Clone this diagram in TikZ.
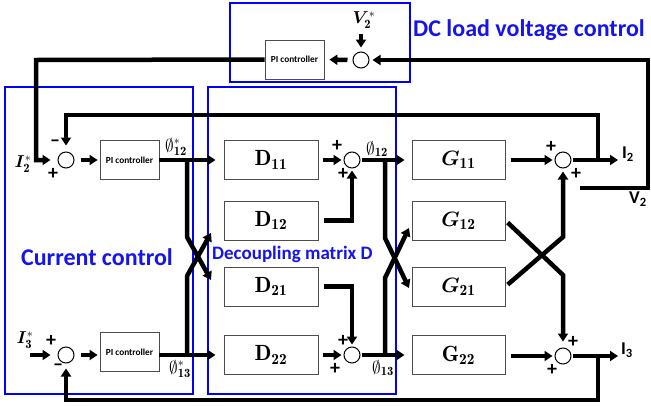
\documentclass[tikz,border=0pt]{standalone}
\usepackage{fontspec}
\usepackage{amsmath,bm}
\newfontfamily\calib{Carlito}
\usetikzlibrary{arrows.meta}
\definecolor{lblue}{RGB}{20,20,235}
\begin{document}
\begin{tikzpicture}[x=1pt,y=-1pt,
  thk/.style={line width=4.5pt},
  arr/.style={thk,-{Triangle[length=8pt,width=10pt]}},
  block/.style={draw=black!70,line width=1pt,minimum width=94pt,minimum height=39pt,inner sep=0pt,font=\fontsize{22}{24}\selectfont},
  pib/.style={draw=black!70,line width=0.8pt,minimum width=59pt,minimum height=39pt,inner sep=0pt,font=\calib\bfseries\fontsize{9.3}{10}\selectfont},
  sumc/.style={circle,draw,line width=1pt,minimum size=16pt,inner sep=0pt},
  bluebox/.style={draw=blue,line width=2pt},
  sgn/.style={inner sep=0pt,font=\calib\bfseries\fontsize{20}{20}\selectfont},
  mlab/.style={inner sep=0pt,font=\fontsize{18}{19}\selectfont},
  olab/.style={inner sep=0pt,font=\calib\bfseries\fontsize{18}{19}\selectfont},
  blab/.style={inner sep=0pt,text=lblue,font=\calib\bfseries\fontsize{24}{26}\selectfont}
]
\useasboundingbox (0,0) rectangle (651,405);
\fill[white] (0,0) rectangle (651,405);

% blue group boxes
\draw[bluebox] (230,3) rectangle (410,82);
\draw[bluebox] (5,87) rectangle (193,394);
\draw[bluebox] (208,87) rectangle (396,394);

% blocks
\node[pib] (pitop) at (294.5,59.5) {PI controller};
\node[pib] (pi1) at (129.5,160) {PI controller};
\node[pib] (pi2) at (129.5,352) {PI controller};
\node[block] (d11) at (271,160) {$\mathbf{D_{11}}$};
\node[block] (d12) at (271,220.5) {$\mathbf{D_{12}}$};
\node[block] (d21) at (271,286.5) {$\mathbf{D_{21}}$};
\node[block] (d22) at (271,355) {$\mathbf{D_{22}}$};
\node[block,minimum width=93pt] (g11) at (458.5,160) {$\bm{G}_{\mathbf{11}}$};
\node[block,minimum width=93pt] (g12) at (458.5,220.5) {$\bm{G}_{\mathbf{12}}$};
\node[block,minimum width=93pt] (g21) at (458.5,286.5) {$\bm{G}_{\mathbf{21}}$};
\node[block,minimum width=93pt] (g22) at (458.5,355) {$\mathbf{G_{22}}$};

% summing junctions
\node[sumc] (stop) at (361,60) {};
\node[sumc] (s1) at (66,160) {};
\node[sumc] (s4) at (66,355) {};
\node[sumc] (s2) at (352,160) {};
\node[sumc] (s3) at (352,355) {};
\node[sumc] (s5) at (563,160) {};
\node[sumc] (s6) at (563,356) {};

% coordinates
\coordinate (vtop) at (361,34);
\coordinate (v2a) at (580,188);
\coordinate (v2r) at (648,188);
\coordinate (lt) at (36,60);
\coordinate (j5) at (598,160);
\coordinate (fb1) at (598,115);
\coordinate (j6) at (598,356);
\coordinate (fb2) at (598,400);
\coordinate (i3in) at (30,355);
\coordinate (j1) at (187,160);
\coordinate (x1a) at (187,237);
\coordinate (x1b) at (211,280);
\coordinate (j2) at (187,355);
\coordinate (x2a) at (187,276);
\coordinate (x2b) at (211,233);
\coordinate (j3) at (385,160);
\coordinate (x3a) at (385,238);
\coordinate (x3b) at (409,288);
\coordinate (j4) at (385,355);
\coordinate (x4a) at (385,278);
\coordinate (x4b) at (409,228);
\coordinate (y1b) at (563,275);
\coordinate (y2b) at (563,237);
\coordinate (o2) at (618,160);
\coordinate (o3) at (618,356);

% DC voltage loop
\draw[arr,shorten >=4pt] (vtop) -- (stop.north);
\draw[arr,shorten <=5pt,shorten >=5pt] (stop.west) -- (pitop.east);
\draw[arr,shorten >=3pt] (v2a) -- (v2r) |- (stop.east);
\draw[arr,shorten >=7pt] (pitop.west) -- (lt) |- (s1.west);

% current control
\draw[arr,shorten >=6pt] (j5) -- (fb1) -| (s1.north);
\draw[arr,shorten <=6pt,shorten >=2pt] (s1.east) -- (pi1.west);
\draw[arr,shorten >=8pt] (pi1.east) -- (d11.west);
\draw[arr,shorten >=7pt] (i3in) -- (s4.west);
\draw[arr,shorten <=6pt,shorten >=2pt] (s4.east) -- (s4.east -| pi2.west);
\draw[arr,shorten >=8pt] (pi2.east |- d22.west) -- (d22.west);
\draw[arr,shorten >=5pt] (j6) -- (fb2) -| (s4.south);
\draw[arr,line join=miter] (j1) -- (x1a) -- (x1b);
\draw[arr,line join=miter] (j2) -- (x2a) -- (x2b);

% decoupling matrix
\draw[arr,shorten <=4pt,shorten >=2pt] (d11.east) -- (s2.west);
\draw[arr,shorten <=5pt,shorten >=2pt] (d12.east) -| (s2.south);
\draw[arr,shorten <=5pt,shorten >=2pt] (d21.east) -| (s3.north);
\draw[arr,shorten <=4pt,shorten >=2pt] (d22.east) -- (s3.west);
\draw[arr,shorten <=1pt,shorten >=7pt] (s2.east) -- (g11.west);
\draw[arr,shorten <=1pt,shorten >=7pt] (s3.east) -- (s3.east -| g22.west);
\draw[arr,line join=miter] (j3) -- (x3a) -- (x3b);
\draw[arr,line join=miter] (j4) -- (x4a) -- (x4b);

% plant
\draw[arr,shorten <=5pt,shorten >=2pt] (g11.east) -- (s5.west);
\draw[arr,shorten <=5pt,shorten >=2pt] (g22.east |- s6.west) -- (s6.west);
\draw[arr,shorten <=3pt,shorten >=6pt] (g12.east) -- (y1b) -- (s6.north);
\draw[arr,shorten <=3pt,shorten >=3pt] (g21.east) -- (y2b) -- (s5.south);
\draw[arr,shorten <=1pt] (s5.east) -- (o2);
\draw[arr,shorten <=1pt] (s6.east) -- (o3);

% signs
\node[sgn] (m1) at (55,143) {–};
\node[sgn] (p1) at (53,174) {+};
\node[sgn] (p4) at (51,341) {+};
\node[sgn] (m4) at (58,367) {–};
\node[sgn] (p2a) at (337,146) {+};
\node[sgn] (p2b) at (343,174) {+};
\node[sgn] (p3a) at (343,341) {+};
\node[sgn] (p3b) at (335,369) {+};
\node[sgn] (p5a) at (551,147) {+};
\node[sgn] (p5b) at (576,174) {+};
\node[sgn] (p6a) at (573,342) {+};
\node[sgn] (p6b) at (552,370) {+};

% signal labels
\node[mlab] (lv2s) at (364,20) {$\bm{V}^{*}_{\mathbf{2}}$};
\node[mlab] (li2s) at (23,164) {$\bm{I}^{*}_{\mathbf{2}}$};
\node[mlab] (li3s) at (25,340) {$\bm{I}^{*}_{\mathbf{3}}$};
\node[mlab] (lp12s) at (176,147) {$\emptyset^{*}_{\mathbf{12}}$};
\node[mlab] (lp13s) at (180,369) {$\emptyset^{*}_{\mathbf{13}}$};
\node[mlab] (lp12) at (377,149) {$\emptyset_{\mathbf{12}}$};
\node[mlab] (lp13) at (383,368) {$\emptyset_{\mathbf{13}}$};
\node[olab] (li2) at (628,154) {I\textsubscript{2}};
\node[olab] (li3) at (627,350) {I\textsubscript{3}};
\node[olab] (lv2) at (638,199) {V\textsubscript{2}};

% group titles
\node[blab] (tdc) at (529,30) {DC load voltage control};
\node[blab] (tcc) at (97,257) {Current control};
\node[blab,font=\calib\bfseries\fontsize{19}{20}\selectfont,anchor=west] (tdm) at (212,254) {Decoupling matrix D};
\end{tikzpicture}
\end{document}
